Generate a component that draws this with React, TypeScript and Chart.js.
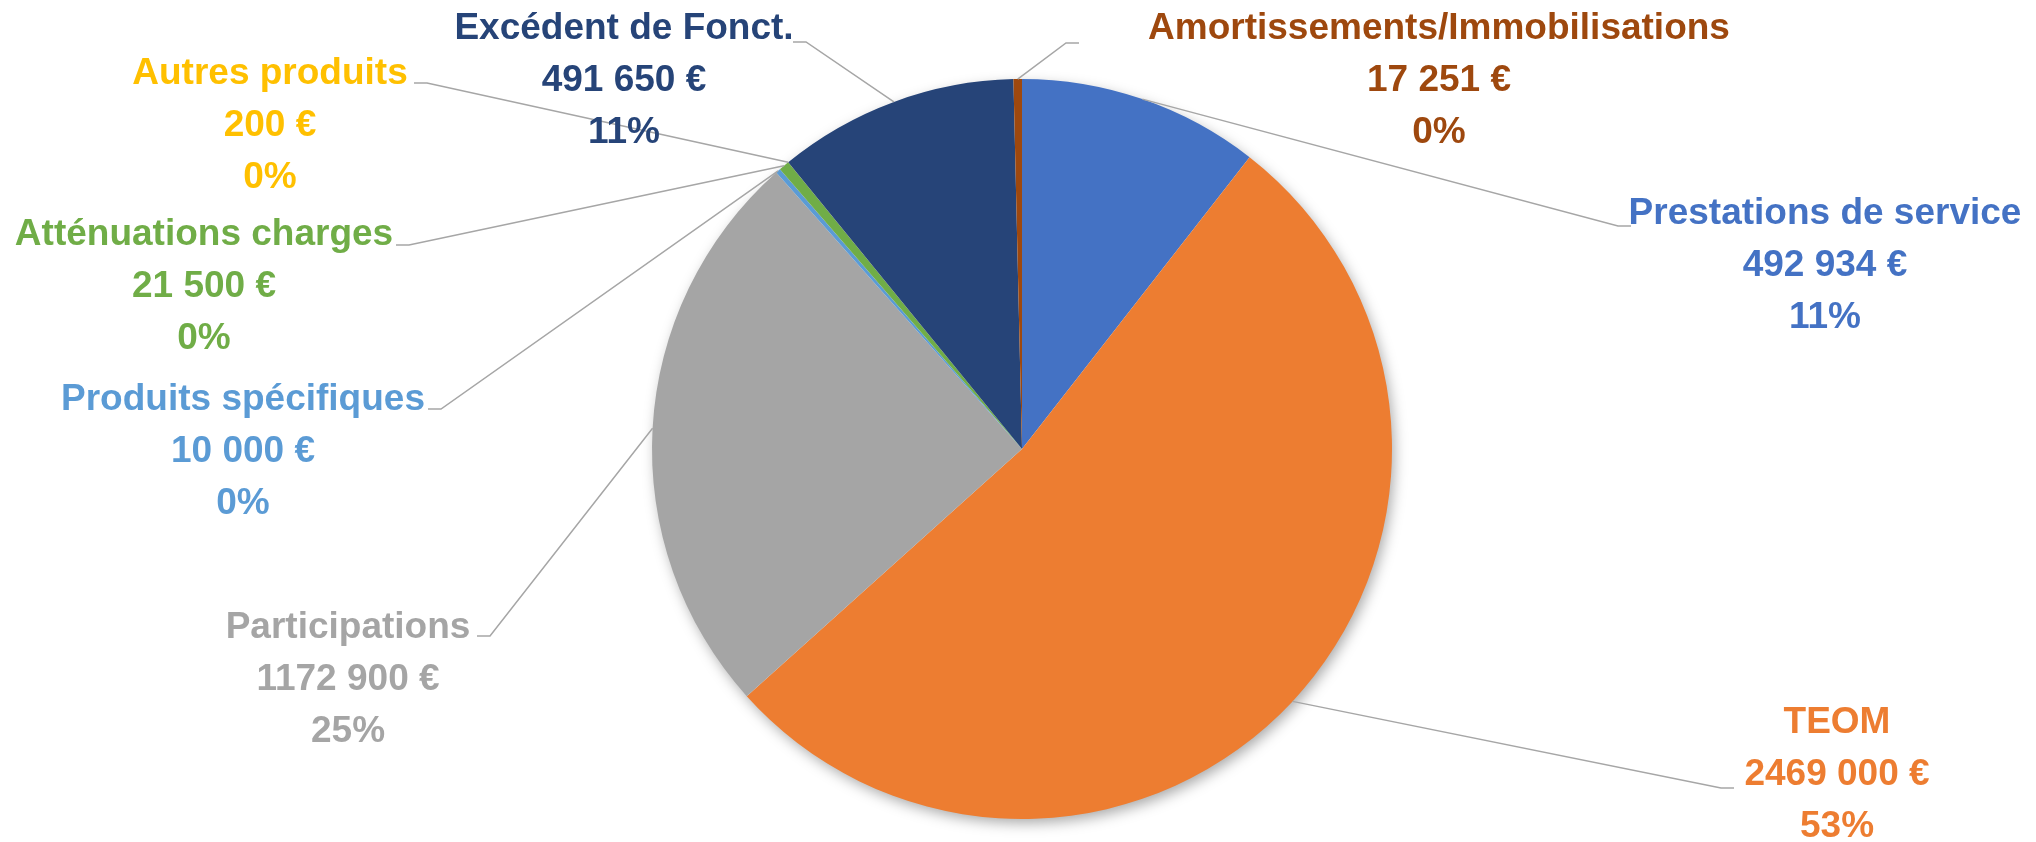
import React, { useEffect, useRef } from 'react';
import { Chart, registerables } from 'chart.js';

Chart.register(...registerables);

// ---- data ----
const categories = [
  'Prestations de service',
  'TEOM',
  'Participations',
  'Produits spécifiques',
  'Atténuations charges',
  'Autres produits',
  'Excédent de Fonct.',
  'Amortissements/Immobilisations',
];
const amounts = [492934, 2469000, 1172900, 10000, 21500, 200, 491650, 17251];
const amountLabels = ['492 934 €', '2469 000 €', '1172 900 €', '10 000 €', '21 500 €', '200 €', '491 650 €', '17 251 €'];
const percentLabels = ['11%', '53%', '25%', '0%', '0%', '0%', '11%', '0%'];
const sliceColors = ['#4472C4', '#ED7D31', '#A5A5A5', '#5B9BD5', '#70AD47', '#FFC000', '#264478', '#9E480E'];

// ---- label layout (pixel positions of label blocks & leader ends) ----
// cx: text centre x, y: first line centre y, ex/ey: leader end near text, dir: knee direction
const labelLayout = [
  { cx: 1825, y: 214, ex: 1631, ey: 226, dir: -1 },
  { cx: 1837, y: 723, ex: 1734, ey: 788, dir: -1 },
  { cx: 348, y: 628, ex: 477, ey: 636, dir: 1 },
  { cx: 243, y: 400, ex: 428, ey: 409, dir: 1 },
  { cx: 204, y: 235, ex: 396, ey: 245, dir: 1 },
  { cx: 270, y: 74, ex: 414, ey: 83, dir: 1 },
  { cx: 624, y: 29, ex: 793, ey: 42, dir: 1 },
  { cx: 1439, y: 29, ex: 1079, ey: 43, dir: -1 },
];
const LINE_GAP = 52;
const KNEE = 13;
const FONT = 'bold 37px "Liberation Sans", Arial, sans-serif';

const shadowPlugin = {
  id: 'pieShadow',
  beforeDatasetsDraw(chart: any) {
    const meta = chart.getDatasetMeta(0);
    const arc = meta.data[0];
    if (!arc) return;
    const ctx = chart.ctx;
    ctx.save();
    ctx.shadowColor = 'rgba(0,0,0,0.35)';
    ctx.shadowBlur = 14;
    ctx.shadowOffsetX = 3;
    ctx.shadowOffsetY = 5;
    ctx.fillStyle = '#ffffff';
    ctx.beginPath();
    ctx.arc(arc.x, arc.y, arc.outerRadius - 1, 0, Math.PI * 2);
    ctx.fill();
    ctx.restore();
  },
};

const labelPlugin = {
  id: 'calloutLabels',
  afterDatasetsDraw(chart: any) {
    const meta = chart.getDatasetMeta(0);
    const ctx = chart.ctx;
    ctx.save();
    meta.data.forEach((arc: any, i: number) => {
      const lay = labelLayout[i];
      const mid = (arc.startAngle + arc.endAngle) / 2;
      const px = arc.x + Math.cos(mid) * arc.outerRadius;
      const py = arc.y + Math.sin(mid) * arc.outerRadius;
      const kx = lay.ex + lay.dir * KNEE;
      ctx.strokeStyle = '#A6A6A6';
      ctx.lineWidth = 1.5;
      ctx.beginPath();
      ctx.moveTo(px, py);
      ctx.lineTo(kx, lay.ey);
      ctx.lineTo(lay.ex, lay.ey);
      ctx.stroke();

      ctx.font = FONT;
      ctx.fillStyle = sliceColors[i];
      ctx.textAlign = 'center';
      ctx.textBaseline = 'middle';
      const lines = [categories[i], amountLabels[i], percentLabels[i]];
      lines.forEach((t, j) => ctx.fillText(t, lay.cx, lay.y + j * LINE_GAP));
    });
    ctx.restore();
  },
};

export default function App() {
  const ref = useRef<HTMLCanvasElement>(null);
  useEffect(() => {
    if (!ref.current) return;
    const chart = new Chart(ref.current, {
      type: 'pie',
      data: {
        labels: categories,
        datasets: [
          {
            data: amounts,
            backgroundColor: sliceColors,
            borderWidth: 0,
          },
        ],
      },
      options: {
        responsive: false,
        devicePixelRatio: 1,
        animation: false,
        layout: { padding: { top: 79, bottom: 23, left: 8, right: 0 } },
        plugins: {
          legend: { display: false },
          tooltip: { enabled: false },
        },
      },
      plugins: [shadowPlugin, labelPlugin],
    });
    return () => chart.destroy();
  }, []);
  return (
    <div style={{ position: 'fixed', left: 0, top: 0, width: 2036, height: 842, background: '#ffffff' }}>
      <canvas ref={ref} width={2036} height={842} style={{ width: 2036, height: 842, display: 'block' }} />
    </div>
  );
}
